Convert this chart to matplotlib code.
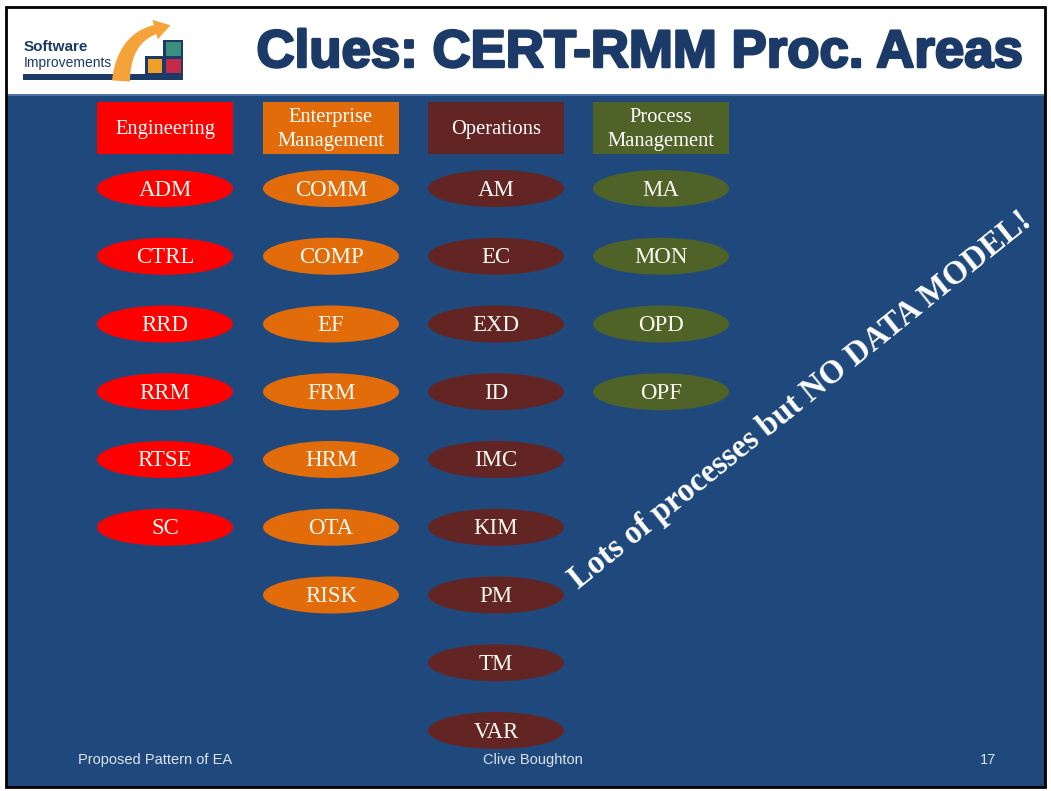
import matplotlib
matplotlib.use("Agg")
import matplotlib.pyplot as plt
from matplotlib.patches import Rectangle, Ellipse, Polygon
import matplotlib.patheffects as pe
import numpy as np

# ---- data ----
group_names = ["Engineering", "Enterprise\nManagement", "Operations", "Process\nManagement"]
engineering = ["ADM", "CTRL", "RRD", "RRM", "RTSE", "SC"]
enterprise = ["COMM", "COMP", "EF", "FRM", "HRM", "OTA", "RISK"]
operations = ["AM", "EC", "EXD", "ID", "IMC", "KIM", "PM", "TM", "VAR"]
process_mgmt = ["MA", "MON", "OPD", "OPF"]
group_items = [engineering, enterprise, operations, process_mgmt]
group_colors = ["#ff0000", "#e36c0a", "#632523", "#4f6228"]

title = "Clues: CERT-RMM Proc. Areas"
diag_text = "Lots of processes but NO DATA MODEL!"
footer_left = "Proposed Pattern of EA"
footer_mid = "Clive Boughton"
footer_right = "17"

W, H = 1051, 791
fig = plt.figure(figsize=(W / 100, H / 100), dpi=100)
ax = fig.add_axes([0, 0, 1, 1])
ax.set_xlim(0, W)
ax.set_ylim(H, 0)
ax.axis("off")

BLUE = "#1f497d"
NAVY = "#1b3a68"

# background
ax.add_patch(Rectangle((0, 0), W, H, facecolor="white", edgecolor="none", zorder=0))
ax.add_patch(Rectangle((6, 95), 1039, 692, facecolor=BLUE, edgecolor="none", zorder=1))
ax.add_patch(Rectangle((6, 94), 1039, 2, facecolor="#4f73a3", edgecolor="none", zorder=1))
ax.add_patch(Rectangle((6, 7), 1039, 780, facecolor="none", edgecolor="black", linewidth=2, zorder=10))

# title
t = ax.text(639, 67, title, ha="center", va="baseline", fontsize=38, fontweight="bold",
            family="Liberation Sans", color=NAVY, zorder=5)
t.set_path_effects([pe.withStroke(linewidth=1.8, foreground=NAVY)])

# logo: swoosh arrow
s = np.linspace(0, 1, 40)
p0, p1, p2 = np.array([121.0, 81.0]), np.array([124.0, 38.0]), np.array([157.0, 29.0])
pts = ((1 - s) ** 2)[:, None] * p0 + (2 * (1 - s) * s)[:, None] * p1 + (s ** 2)[:, None] * p2
d = 2 * (1 - s)[:, None] * (p1 - p0) + 2 * s[:, None] * (p2 - p1)
d /= np.linalg.norm(d, axis=1)[:, None]
nrm = np.stack([-d[:, 1], d[:, 0]], axis=1)
half = (9.0 * (1 - s) + 4.5 * s)[:, None]
left = pts + nrm * half
right = pts - nrm * half
band = np.vstack([left, right[::-1]])
ax.add_patch(Polygon(band, closed=True, facecolor="#f3a33a", edgecolor="none", zorder=4))
tipdir = d[-1]
tipn = np.array([-tipdir[1], tipdir[0]])
base = p2 - tipdir * 2
head = [base + tipn * 10, p2 + tipdir * 14, base - tipn * 10]
ax.add_patch(Polygon(head, closed=True, facecolor="#f3a33a", edgecolor="none", zorder=4))

ax.add_patch(Rectangle((23, 74), 160, 6, facecolor=NAVY, edgecolor="none", zorder=3))
ax.add_patch(Polygon([(145, 56), (163, 56), (163, 40), (183, 40), (183, 75), (145, 75)],
                     closed=True, facecolor=NAVY, edgecolor="none", zorder=3))
ax.add_patch(Rectangle((166, 42), 15, 14, facecolor="#3a8f7e", edgecolor="none", zorder=4))
ax.add_patch(Rectangle((148, 59), 14, 14, facecolor="#f0a028", edgecolor="none", zorder=4))
ax.add_patch(Rectangle((166, 59), 15, 14, facecolor="#c42a4a", edgecolor="none", zorder=4))
ax.text(24, 51, "Software", ha="left", va="baseline", fontsize=11, fontweight="bold",
        family="Liberation Sans", color=NAVY, zorder=5)
ax.text(24, 67, "Improvements", ha="left", va="baseline", fontsize=10,
        family="Liberation Sans", color=NAVY, zorder=5)

# columns
col_x = [165, 331, 496, 661]
box_w, box_h = 136, 52
ell_w, ell_h = 136, 37
row0, dy = 188.5, 67.75
for cx, name, items, c in zip(col_x, group_names, group_items, group_colors):
    ax.add_patch(Rectangle((cx - box_w / 2, 102), box_w, box_h, facecolor=c,
                           edgecolor="none", zorder=3))
    ax.text(cx, 129.5, name, ha="center", va="center", fontsize=14.8, color="white",
            family="Liberation Serif", linespacing=1.35, zorder=5)
    for i, it in enumerate(items):
        cy = row0 + i * dy
        ax.add_patch(Ellipse((cx, cy), ell_w, ell_h, facecolor=c, edgecolor="none", zorder=3))
        ax.text(cx, cy + 1.5, it, ha="center", va="center", fontsize=16.5, color="#fbfaf2",
                family="Liberation Serif", zorder=5)

# diagonal note
ax.text(801, 400, diag_text, ha="center", va="center", rotation=38.8,
        rotation_mode="anchor", fontsize=23.5, fontweight="bold", color="white",
        family="Liberation Serif", zorder=6)

# footer
ax.text(78, 760, footer_left, ha="left", va="center", fontsize=10.5, color="#dde3ec",
        family="Liberation Sans", zorder=5)
ax.text(533, 760, footer_mid, ha="center", va="center", fontsize=10.5, color="#dde3ec",
        family="Liberation Sans", zorder=5)
ax.text(988, 760, footer_right, ha="center", va="center", fontsize=10.5, color="#dde3ec",
        family="Liberation Sans", zorder=5)

fig.savefig("out.png", dpi=100)
